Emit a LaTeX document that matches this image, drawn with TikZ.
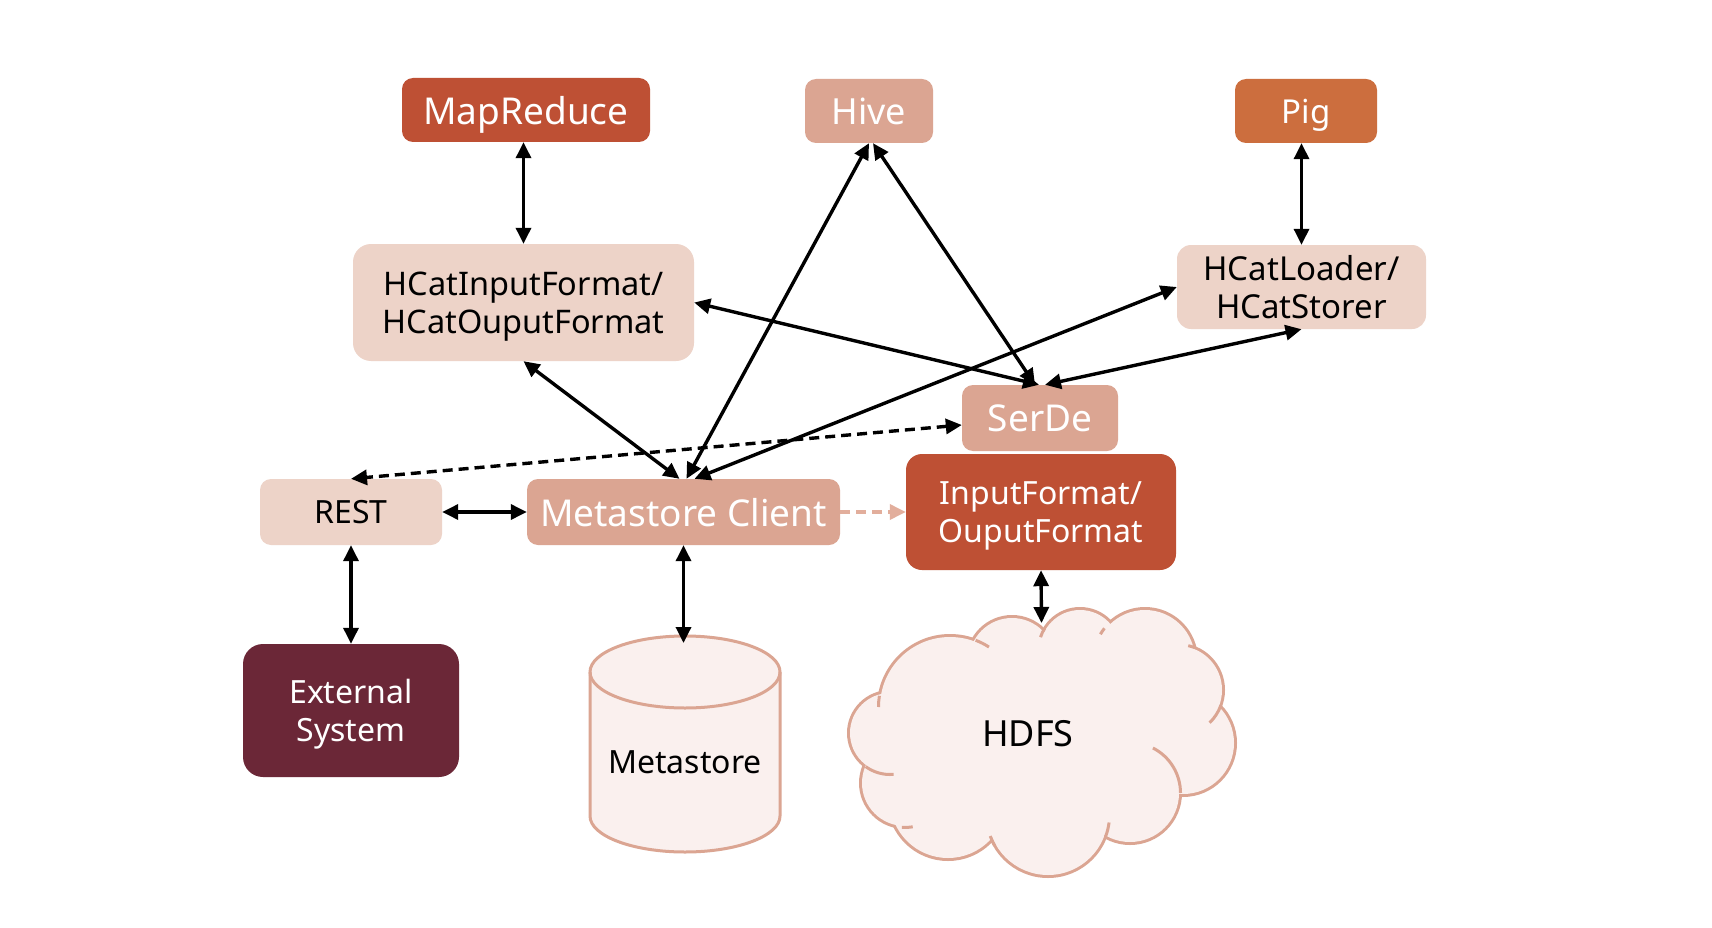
\documentclass[tikz,border=0pt]{standalone}
\usepackage{fontspec}
\setmainfont{Noto Sans}
\usetikzlibrary{arrows.meta}
\definecolor{rust}{HTML}{BE5034}
\definecolor{salmon}{HTML}{DBA592}
\definecolor{orangeb}{HTML}{CC6E3E}
\definecolor{blush}{HTML}{EDD3C8}
\definecolor{wine}{HTML}{6B2737}
\definecolor{paper}{HTML}{FAF0EE}
\definecolor{pinkline}{HTML}{E2AE9C}
\newcommand\fsz[1]{\fontsize{#1}{38}\selectfont}
\newcommand\cloudarc[5]{\draw[cloudline] ([shift={(#4:#3)}]#1,#2) arc[start angle=#4, end angle=#5, radius=#3];}
\begin{document}
\begin{tikzpicture}[x=1pt,y=-1pt,
  box/.style={rounded corners=11pt, inner sep=0pt, align=center, text depth=0pt},
  conn/.style={line width=3.4pt, {Triangle[length=16pt,width=15pt]}-{Triangle[length=16pt,width=15pt]}},
  dashline/.style={dash pattern=on 10pt off 6pt},
  cloudline/.style={salmon, line width=3pt},
  ]
\fill[white] (0,0) rectangle (1712,928);
\useasboundingbox (0,0) rectangle (1712,928);

% nodes
\node[box, fill=rust, text=white, minimum width=248pt, minimum height=64pt, font=\fsz{37}] (mr) at (526,110) {MapReduce};
\node[box, fill=salmon, text=white, minimum width=128pt, minimum height=64pt, font=\fsz{36}] (hive) at (869,111) {Hive};
\node[box, fill=orangeb, text=white, minimum width=142pt, minimum height=64pt, font=\fsz{33}] (pig) at (1306,111) {Pig};
\node[box, rounded corners=18pt, fill=blush, minimum width=341pt, minimum height=117pt, font=\fsz{32.5}] (hcif) at (523.5,302.5) {HCatInputFormat/\\HCatOuputFormat};
\node[box, rounded corners=14pt, fill=blush, minimum width=249pt, minimum height=84pt, font=\fsz{33}] (hcl) at (1301.5,287) {HCatLoader/\\HCatStorer};
\node[box, fill=salmon, text=white, minimum width=156pt, minimum height=66pt, font=\fsz{37}] (serde) at (1040,418) {SerDe};
\node[box, rounded corners=16pt, fill=rust, text=white, minimum width=270pt, minimum height=116pt, font=\fsz{32}] (iof) at (1041,512) {InputFormat/\\OuputFormat};
\node[box, fill=blush, minimum width=182pt, minimum height=66pt, font=\fsz{32}] (rest) at (351,512) {REST};
\node[box, fill=salmon, text=white, minimum width=313pt, minimum height=66pt, font=\fsz{37}] (mc) at (683.5,512) {Metastore Client};
\node[box, rounded corners=20pt, fill=wine, text=white, minimum width=216pt, minimum height=133pt, font=\fsz{32}] (ext) at (351,710.5) {External\\System};

% metastore cylinder
\path[fill=paper, draw=salmon, line width=3pt] (590,672) -- (590,816)
  arc[start angle=180, end angle=0, x radius=95, y radius=36] -- (780,672)
  arc[start angle=0, end angle=-180, x radius=95, y radius=36] -- cycle;
\draw[salmon, line width=3pt] (590,672) arc[start angle=180, end angle=0, x radius=95, y radius=36];
\node[font=\fsz{32}, inner sep=0pt] (ms) at (685,762) {Metastore};
\coordinate (mstop) at (683.5,643);

% HDFS cloud
\foreach \cx/\cy/\r in {950/707/70, 1012/661/43, 1080/650/40, 1145/660/50, 1178/690/44, 1183/743/51, 1130/793/49, 1048/815/60, 948/800/58, 905/783/43, 890/733/40}
  \draw[salmon, line width=6pt] (\cx,\cy) circle[radius=\r];
\foreach \cx/\cy/\r in {950/707/70, 1012/661/43, 1080/650/40, 1145/660/50, 1178/690/44, 1183/743/51, 1130/793/49, 1048/815/60, 948/800/58, 905/783/43, 890/733/40}
  \fill[paper] (\cx,\cy) circle[radius=\r];
\fill[paper] (1040,745) ellipse[x radius=130, y radius=80];
\cloudarc{950}{707}{71.5}{-69}{-57}
\cloudarc{1080}{650}{41.5}{-149}{-162}
\cloudarc{1145}{660}{51.5}{-142}{-150}
\cloudarc{1178}{690}{45.5}{-77}{-69}
\cloudarc{1178}{690}{45.5}{20}{46}
\cloudarc{1130}{793}{50.5}{0}{-63}
\cloudarc{1048}{815}{61.5}{21}{7}
\cloudarc{1048}{815}{61.5}{150}{160}
\cloudarc{905}{783}{44.5}{80}{94}
\cloudarc{890}{733}{41.5}{126}{85}
\cloudarc{950}{707}{71.5}{189}{180}
\node[font=\fsz{36}, inner sep=0pt] (hdfs) at (1028,734) {HDFS};
\coordinate (hdfstop) at (1041.5,623);

% connectors
\draw[conn] (hcif.north |- mr.south) -- (hcif.north);
\draw[conn] (hcl.north |- pig.south) -- (hcl.north);
\draw[conn] (hive.south) -- ([xshift=3pt]mc.north);
\draw[conn] ([xshift=4pt]hive.south) -- ([xshift=-5pt]serde.north);
\draw[conn] (hcif.east) -- ([xshift=-1pt]serde.north);
\draw[conn] (hcl.south) -- ([xshift=5pt]serde.north);
\draw[conn] (hcl.west) -- ([xshift=11pt]mc.north);
\draw[conn] (hcif.south) -- ([xshift=-4pt]mc.north);
\draw[conn, dashline] ([yshift=-7pt]serde.west) -- (rest.north);
\draw[conn] (rest.east) -- (mc.west);
\draw[pinkline, line width=3.4pt, dashline, -{Triangle[length=16pt,width=15pt]}] (mc.east) -- (iof.west);
\draw[conn] (rest.south) -- (ext.north);
\draw[conn] (mc.south) -- (mstop);
\draw[conn] (iof.south) -- (hdfstop);
\end{tikzpicture}
\end{document}
